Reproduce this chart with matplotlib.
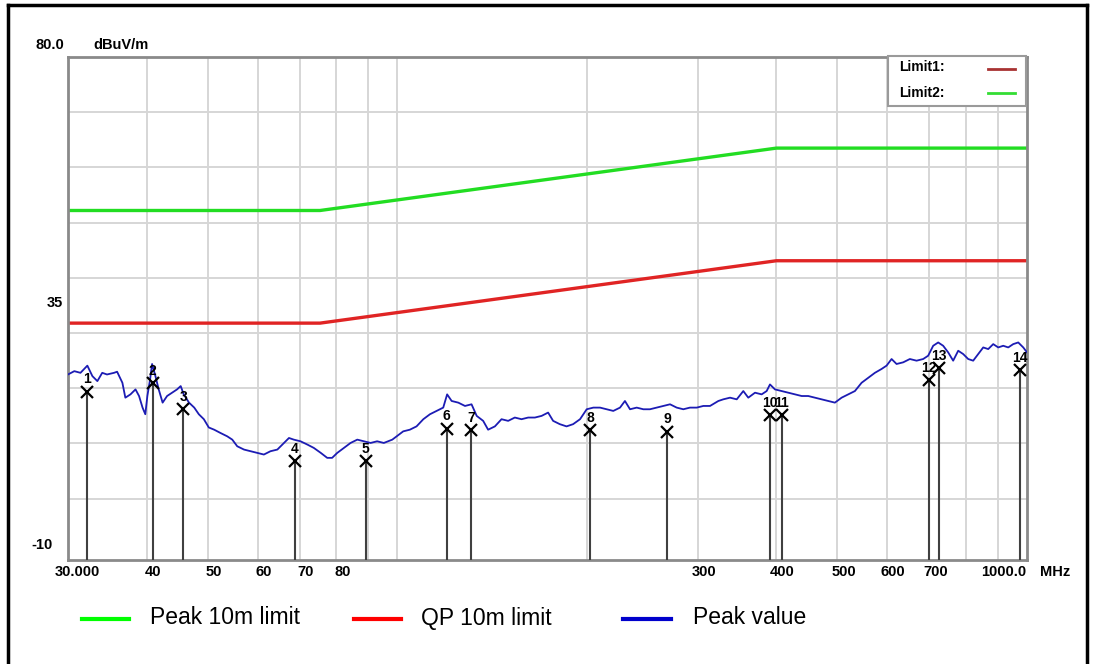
import matplotlib
matplotlib.use("Agg")
import matplotlib.pyplot as plt
from matplotlib.lines import Line2D
from matplotlib.patches import Rectangle
import matplotlib.transforms as mtransforms

# limit lines, MHz / dBuV/m
limit_freq = [30, 75.4, 400, 1000]
peak_limit = [52.2, 52.2, 63.5, 63.5]
qp_limit = [31.8, 31.8, 43.1, 43.1]

# peak scan
trace_freq = [30.0, 30.7, 31.4, 32.2, 32.8, 33.4, 34.0, 34.6, 35.5, 35.9, 36.6, 37.0, 37.7, 38.4,
              38.9, 39.4, 39.8, 40.1, 40.5, 40.8, 41.3, 41.8, 42.4, 43.1, 43.9, 44.7, 45.3, 45.8,
              46.7, 47.6, 48.4, 49.3, 50.2, 51.2, 52.4, 53.7, 54.7, 55.7, 57.1, 58.5, 59.9, 61.4,
              62.9, 64.5, 66.1, 67.3, 68.5, 70.2, 72.0, 73.7, 75.6, 77.4, 78.8, 80.3, 82.3, 84.3,
              86.4, 88.5, 90.7, 92.9, 95.2, 98.2,
              99.8, 102.2, 104.7, 107.3, 110.0, 112.7, 115.5, 118.3, 120.0, 122.0, 125.0, 128.1,
              131.2, 133.7, 136.9, 139.4, 142.9, 146.4, 150.0, 153.7, 157.5, 161.4, 165.4, 169.5,
              173.6, 176.8, 181.2, 185.7, 190.2, 195.1, 199.9, 204.8, 209.9, 215.1, 220.3, 225.8,
              229.9, 234.2, 240.0, 245.9, 251.9, 258.2, 264.5, 271.1, 277.8, 284.6, 291.6, 298.9,
              306.2, 313.8, 323.5,
              329.4, 337.6, 346.0, 354.4, 360.9, 369.9, 379.0, 386.0, 390.7, 397.9, 407.8, 417.7,
              428.1, 438.7, 449.4, 460.5, 471.9, 483.4, 495.4, 507.7, 520.1, 533.0, 546.2, 559.5,
              573.4, 587.6, 598.4, 609.5, 620.7, 635.9, 651.6, 667.8, 684.1, 696.7, 709.6, 722.7,
              736.0, 749.6, 763.4, 777.6, 791.9, 806.5, 821.4, 836.6, 852.1, 867.8, 883.8, 900.1,
              916.8, 933.7, 950.9, 968.5, 986.4, 1000.0]
trace_level = [22.5, 23.1, 22.8, 24.1, 22.2, 21.3, 22.8, 22.5, 22.8, 23.0, 21.0, 18.3, 18.9, 19.8,
               18.6, 16.5, 15.3, 18.6, 21.6, 24.4, 22.2, 19.8, 17.4, 18.6, 19.2, 19.8, 20.4, 18.9,
               17.4, 16.5, 15.3, 14.4, 12.9, 12.5, 11.9, 11.3, 10.7, 9.5, 8.9, 8.6, 8.3, 8.0,
               8.6, 8.9, 10.1, 11.0, 10.7, 10.4, 9.8, 9.2, 8.3, 7.4, 7.4, 8.3, 9.2, 10.1,
               10.7, 10.4, 10.1, 10.4, 10.1, 10.7,
               11.3, 12.2, 12.5, 13.1, 14.4, 15.3, 15.9, 16.5, 18.9, 17.7, 17.4, 16.8,
               17.1, 15.0, 14.1, 12.5, 13.1, 14.4, 14.1, 14.7, 14.4, 14.7, 14.7, 15.0,
               15.6, 14.1, 13.5, 13.1, 13.5, 14.4, 16.2, 16.5, 16.5, 16.2, 15.9, 16.5,
               17.7, 16.2, 16.5, 16.2, 16.2, 16.5, 16.8, 17.1, 16.5, 16.2, 16.5, 16.5,
               16.8, 16.8, 17.7,
               18.0, 18.3, 18.0, 19.5, 18.3, 19.2, 18.9, 19.5, 20.7, 19.8, 19.5, 19.2,
               18.9, 18.6, 18.6, 18.3, 18.0, 17.7, 17.4, 18.3, 18.9, 19.5, 21.0, 21.9,
               22.8, 23.5, 24.1, 25.3, 24.4, 24.7, 25.3, 25.0, 25.3, 25.9, 27.7, 28.3,
               27.7, 26.5, 25.0, 26.8, 26.2, 25.3, 25.0, 26.2, 27.4, 27.1, 28.0, 27.4,
               27.7, 27.4, 28.0, 28.3, 27.4, 26.5]

# marker table
marker_no = [1, 2, 3, 4, 5, 6, 7, 8, 9, 10, 11, 12, 13, 14]
marker_freq = [32.2, 40.9, 45.7, 68.7, 89.1, 119.8, 131.1, 202.5, 268.0, 390.7, 407.8, 698.0, 725.6, 973.5]
marker_level = [19.4, 20.9, 16.2, 6.8, 6.8, 12.7, 12.4, 12.4, 12.1, 15.1, 15.1, 21.5, 23.6, 23.3]

grid_freq = [40, 50, 60, 70, 80, 90, 100, 200, 300, 400, 500, 600, 700, 800, 900]
grid_level = [0, 10, 20, 30, 40, 50, 60, 70]
xtick_freq = [30, 40, 50, 60, 70, 80, 300, 400, 500, 600, 700, 1000]
xtick_text = ["30.000", "40", "50", "60", "70", "80", "300", "400", "500", "600", "700", "1000.0"]

W, H = 1094, 664
fig = plt.figure(figsize=(W / 100, H / 100), dpi=100)
ax = fig.add_axes([68 / W, 1 - 560 / H, (1027 - 68) / W, (560 - 57) / H])

def px(x, y):
    return x / W, 1 - y / H

ax.set_xscale("log")
ax.set_xlim(30, 1000)
ax.set_ylim(-11.1, 80)
ax.set_xticks([])
ax.set_yticks([])
ax.minorticks_off()
for s in ax.spines.values():
    s.set_color("#8a8a8a")
    s.set_linewidth(2)

for f in grid_freq:
    ax.axvline(f, color="#d6d6d6", lw=1.4, zorder=0)
for v in grid_level:
    ax.axhline(v, color="#d6d6d6", lw=1.4, zorder=0)

ax.plot(limit_freq, peak_limit, color="#22dd22", lw=2.4, zorder=2)
ax.plot(limit_freq, qp_limit, color="#e02424", lw=2.4, zorder=2)
ax.plot(trace_freq, trace_level, color="#1c1cb4", lw=1.3, zorder=3)

# markers with drop lines
for n, f, v in zip(marker_no, marker_freq, marker_level):
    ax.plot([f, f], [-11.1, v], color="#404040", lw=1.5, zorder=4)
    ax.plot(f, v, marker="x", ms=9, mew=1.6, color="black", zorder=5)
    ax.annotate(str(n), (f, v), xytext=(0, 9), textcoords="offset points",
                ha="center", va="center", fontsize=10, fontweight="bold",
                family="Liberation Sans", zorder=6)

# limit key box
box = Rectangle(px(888, 106), (1026 - 888) / W, (106 - 56) / H, transform=fig.transFigure,
                facecolor="white", edgecolor="#9a9a9a", lw=1.5, zorder=10)
fig.add_artist(box)
fig.text(*px(899, 67), "Limit1:", fontsize=10, fontweight="bold", va="center", family="Liberation Sans", zorder=11)
fig.text(*px(899, 93), "Limit2:", fontsize=10, fontweight="bold", va="center", family="Liberation Sans", zorder=11)
fig.add_artist(Line2D([988 / W, 1015 / W], [1 - 69 / H] * 2, color="#a83232", lw=2, zorder=11))
fig.add_artist(Line2D([988 / W, 1015 / W], [1 - 93 / H] * 2, color="#33dd33", lw=2, zorder=11))

# axis texts
lab = dict(fontsize=10.5, fontweight="bold", family="Liberation Sans", va="center")
fig.text(*px(36, 45), "80.0", ha="left", **lab)
fig.text(*px(93, 45), "dBuV/m", ha="left", **lab)
fig.text(*px(63, 303), "35", ha="right", **lab)
fig.text(*px(53, 545), "-10", ha="right", **lab)

xt = mtransforms.offset_copy(ax.get_xaxis_transform(), fig=fig, x=6, y=0, units="dots")
for f, t in zip(xtick_freq, xtick_text):
    if t == "30.000":
        fig.text(*px(77, 572), t, ha="center", **lab)
    elif t == "1000.0":
        fig.text(*px(1004, 572), t, ha="center", **lab)
    else:
        ax.text(f, -0.024, t, transform=xt, ha="center", **lab)
fig.text(*px(1055, 572), "MHz", ha="center", **lab)

# bottom legend
leg = [("#00ff00", "Peak 10m limit", 82, 129, 150),
       ("#ff0000", "QP 10m limit", 354, 401, 421),
       ("#0000cc", "Peak value", 623, 671, 693)]
for c, t, x0, x1, xt0 in leg:
    fig.add_artist(Line2D([x0 / W, x1 / W], [1 - 619 / H] * 2, color=c, lw=3))
    fig.text(*px(xt0, 618), t, fontsize=16.5, va="center", ha="left", family="Liberation Sans")

# outer frame
for xs, ys in [([8, 8], [5, 664]), ([8, 1087], [5, 5]), ([1087, 1087], [5, 664])]:
    fig.add_artist(Line2D([x / W for x in xs], [1 - y / H for y in ys], color="black", lw=2.5))

fig.savefig("out.png", dpi=100)
